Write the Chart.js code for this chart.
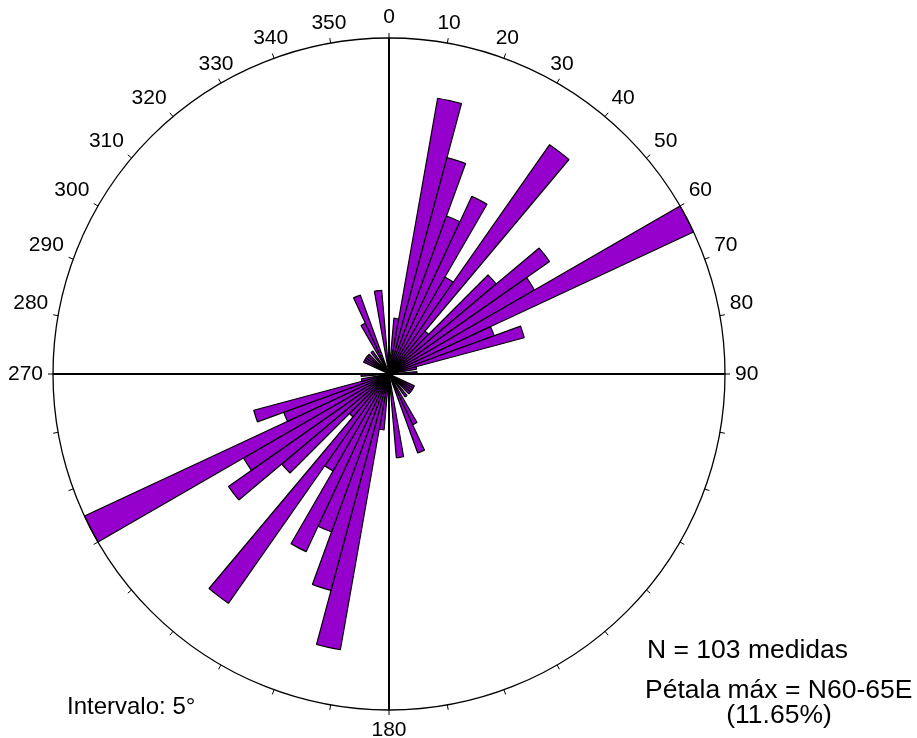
<!DOCTYPE html>
<html>
<head>
<meta charset="utf-8">
<script src="https://cdn.jsdelivr.net/npm/chart.js@4/dist/chart.umd.min.js"></script>
<style>
  body { margin: 0; background: #fff; }
</style>
</head>
<body>
<canvas id="roseta" width="917" height="738"></canvas>
<script>
// Diagrama de roseta - número de medidas por intervalo de 5° (N = 103)
// Pétalas de 0° a 180° (N-S passando por E)
const petalasNE = [0, 2, 10, 8, 6, 7, 4, 10, 2, 5, 7, 6, 12, 4, 5, 1, 0, 1,
                   0, 0, 0, 0, 0, 1, 1, 1, 1, 0, 1, 0, 2, 3, 0, 0, 3, 0];
// Pétalas de 180° a 360° (direções opostas, mesmos valores)
const petalasSW = [0, 2, 10, 8, 6, 7, 4, 10, 2, 5, 7, 6, 12, 4, 5, 1, 0, 1,
                   0, 0, 0, 0, 0, 1, 1, 1, 1, 0, 1, 0, 2, 3, 0, 0, 3, 0];
const totalMedidas = 103;
const maxPetala = 12;

// Rótulos dos ângulos
const angulosRotulo = [0, 10, 20, 30, 40, 50, 60, 70, 80, 90, 180, 270, 280, 290, 300, 310, 320, 330, 340, 350];
const textosRotulo = ['0', '10', '20', '30', '40', '50', '60', '70', '80', '90', '180', '270', '280', '290', '300', '310', '320', '330', '340', '350'];

const intervalos = [];
for (let a = 0; a < 360; a += 5) {
    intervalos.push(a + '-' + (a + 5));
}

const fonte = '"Liberation Sans", Arial, Helvetica, sans-serif';

const decoracao = {
    id: 'decoracao',
    afterDatasetsDraw(chart) {
        const escala = chart.scales.r;
        const ctx = chart.ctx;
        const cx = escala.xCenter;
        const cy = escala.yCenter;
        const R = escala.drawingArea;

        ctx.save();
        ctx.strokeStyle = '#000';

        // círculo externo
        ctx.lineWidth = 1.3;
        ctx.beginPath();
        ctx.arc(cx, cy, R, 0, Math.PI * 2);
        ctx.stroke();

        // cruz N-S / E-W
        ctx.lineWidth = 2;
        ctx.beginPath();
        ctx.moveTo(cx, cy - R);
        ctx.lineTo(cx, cy + R);
        ctx.moveTo(cx - R, cy);
        ctx.lineTo(cx + R, cy);
        ctx.stroke();

        // marcas a cada 10 graus
        ctx.lineWidth = 1;
        for (let a = 0; a < 360; a += 10) {
            const t = a * Math.PI / 180;
            ctx.beginPath();
            ctx.moveTo(cx + R * Math.sin(t), cy - R * Math.cos(t));
            ctx.lineTo(cx + (R + 5) * Math.sin(t), cy - (R + 5) * Math.cos(t));
            ctx.stroke();
        }

        // rótulos
        ctx.fillStyle = '#000';
        ctx.font = '21px ' + fonte;
        angulosRotulo.forEach(function(a, i) {
            const t = a * Math.PI / 180;
            const s = Math.sin(t), c = Math.cos(t);
            const x = cx + (R + 10) * s;
            const y = cy - (R + 10) * c;
            ctx.textAlign = Math.abs(s) < 0.55 ? 'center' : (s > 0 ? 'left' : 'right');
            ctx.textBaseline = c > 0.15 ? 'bottom' : (c < -0.15 ? 'top' : 'middle');
            ctx.fillText(textosRotulo[i], x, y);
        });

        // textos
        ctx.textBaseline = 'alphabetic';
        ctx.font = '26.5px ' + fonte;
        ctx.textAlign = 'left';
        ctx.fillText('N = ' + totalMedidas + ' medidas', 647, 658);
        ctx.fillText('Pétala máx = N60-65E', 645, 698);
        ctx.textAlign = 'center';
        ctx.fillText('(11.65%)', 779, 723);
        ctx.font = '24px ' + fonte;
        ctx.textAlign = 'left';
        ctx.fillText('Intervalo: 5°', 67, 714);
        ctx.restore();
    }
};

document.addEventListener('DOMContentLoaded', function() {
    const ctx = document.getElementById('roseta');
    new Chart(ctx, {
        type: 'polarArea',
        data: {
            labels: intervalos,
            datasets: [{
                label: 'Medidas',
                data: petalasNE.concat(petalasSW),
                backgroundColor: '#9600cc',
                borderColor: '#000',
                borderWidth: 1.2
            }]
        },
        options: {
            responsive: false,
            animation: false,
            layout: {
                padding: { left: 53, right: 192, top: 38, bottom: 28 }
            },
            scales: {
                r: {
                    min: 0,
                    max: maxPetala,
                    startAngle: 0,
                    ticks: { display: false },
                    grid: { display: false },
                    angleLines: { display: false },
                    pointLabels: { display: false }
                }
            },
            plugins: {
                legend: { display: false },
                tooltip: { enabled: false }
            }
        },
        plugins: [decoracao]
    });
});
</script>
</body>
</html>
